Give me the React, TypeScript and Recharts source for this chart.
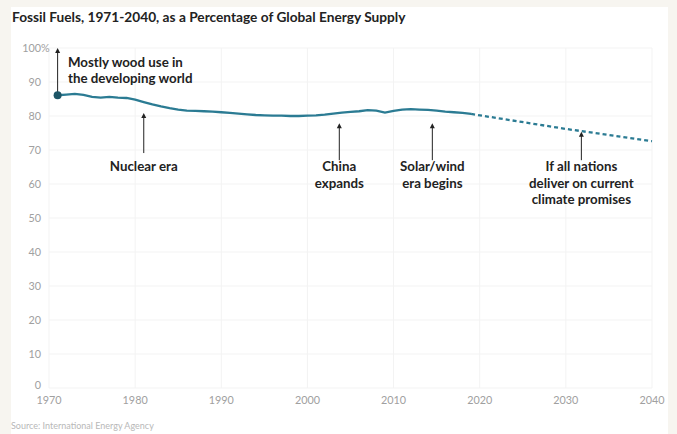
import React from "react";
import {
  LineChart,
  Line,
  XAxis,
  YAxis,
  CartesianGrid,
  ReferenceLine,
  ReferenceDot
} from "recharts";

// Fossil fuel share of total energy supply, percent
const histYears = [
  1971, 1972, 1973, 1974, 1975, 1976, 1977, 1978, 1979, 1980,
  1981, 1982, 1983, 1984, 1985, 1986, 1987, 1988, 1989, 1990,
  1991, 1992, 1993, 1994, 1995, 1996, 1997, 1998, 1999, 2000,
  2001, 2002, 2003, 2004, 2005, 2006, 2007, 2008, 2009, 2010,
  2011, 2012, 2013, 2014, 2015, 2016, 2017, 2018, 2019
];
const histShare = [
  86.1, 86.3, 86.5, 86.2, 85.6, 85.4, 85.6, 85.4, 85.3, 84.8,
  84.1, 83.4, 82.8, 82.3, 81.9, 81.6, 81.5, 81.4, 81.3, 81.1,
  80.9, 80.7, 80.5, 80.3, 80.2, 80.1, 80.1, 80.0, 80.0, 80.1,
  80.2, 80.4, 80.7, 81.0, 81.2, 81.4, 81.7, 81.6, 81.0, 81.5,
  81.9, 82.0, 81.9, 81.8, 81.6, 81.3, 81.1, 80.9, 80.6
];
const projYears = [2019, 2030, 2040];
const projShare = [80.6, 76.2, 72.6];

const xTicks = [1970, 1980, 1990, 2000, 2010, 2020, 2030, 2040];
const yTicks = [0, 10, 20, 30, 40, 50, 60, 70, 80, 90, 100];

// callouts: arrow at year, from tail value up to tip value, label lines below
const CALLOUT_TEXT_Y = 63.7;
const callouts = [
  { year: 1981, tip: 80.9, tail: 69.1, lines: ["Nuclear era"] },
  { year: 2003.7, tip: 77.9, tail: 67.0, lines: ["China", "expands"] },
  { year: 2014.5, tip: 77.9, tail: 67.0, lines: ["Solar/wind", "era begins"] },
  { year: 2031.8, tip: 75.4, tail: 67.0, lines: ["If all nations", "deliver on current", "climate promises"] }
];

const rows = new Map<number, any>();
histYears.forEach((y, i) => rows.set(y, { year: y, hist: histShare[i] }));
projYears.forEach((y, i) => rows.set(y, { ...(rows.get(y) || { year: y }), proj: projShare[i] }));
const data = Array.from(rows.values()).sort((a, b) => a.year - b.year);

const FONT = "Lato, 'Noto Sans', sans-serif";
const TEAL = "#2b7b93";

const Arrow = (p: any) => {
  const { x1, y1, y2 } = p;
  const top = Math.min(y1, y2);
  const bot = Math.max(y1, y2);
  return (
    <g>
      <line x1={x1} x2={x1} y1={top + 3} y2={bot} stroke="#222" strokeWidth={1} />
      <polygon points={`${x1 - 2.5},${top + 5} ${x1 + 2.5},${top + 5} ${x1},${top}`} fill="#222" />
    </g>
  );
};

const Label = (lines: string[], anchor: "middle" | "start") => (p: any) => (
  <text
    x={p.cx}
    y={p.cy}
    textAnchor={anchor}
    fontFamily={FONT}
    fontWeight={700}
    fontSize={13.3}
    fill="#222"
  >
    {lines.map((t, i) => (
      <tspan key={i} x={p.cx} dy={i === 0 ? 0 : 16.5}>
        {t}
      </tspan>
    ))}
  </text>
);

const YTick = (p: any) => {
  const v = p.payload.value;
  // the zero label sits a little above its line so it clears the year row
  const y = v === 0 ? p.y - 3 : p.y;
  return (
    <g>
      <text x={p.x} y={y} dy="0.35em" textAnchor="end" fontFamily={FONT} fontSize={10.8} fill="#a0a0a0">
        {v}
      </text>
      {v === 100 && (
        <text x={p.x} y={y} dy="0.35em" textAnchor="start" fontFamily={FONT} fontSize={10.8} fill="#a0a0a0">
          %
        </text>
      )}
    </g>
  );
};

const XTick = (p: any) => (
  <text x={p.x} y={p.y} dy="0.71em" textAnchor="middle" fontFamily={FONT} fontSize={10.8} fill="#a0a0a0">
    {p.payload.value}
  </text>
);

export default function App() {
  return (
    <div style={{ position: "relative", width: 677, height: 434, background: "#f7f5f0", overflow: "hidden" }}>
      <style>{"body{margin:0}"}</style>
      <div style={{ position: "absolute", left: 11, top: 7, width: 657, height: 427, background: "#fff" }} />
      <div
        style={{
          position: "absolute",
          left: 12,
          top: 8,
          fontFamily: FONT,
          fontWeight: 700,
          fontSize: 13.7,
          color: "#222",
          whiteSpace: "nowrap"
        }}
      >
        Fossil Fuels, 1971-2040, as a Percentage of Global Energy Supply
      </div>
      <div
        style={{
          position: "absolute",
          left: 11,
          top: 420,
          fontFamily: FONT,
          fontSize: 9,
          color: "#b8b8b8",
          whiteSpace: "nowrap"
        }}
      >
        Source: International Energy Agency
      </div>
      <div style={{ position: "absolute", left: 0, top: 0 }}>
        <LineChart width={677} height={434} data={data} margin={{ top: 48, right: 25, bottom: 26, left: 0 }}>
          <CartesianGrid stroke="#f3f3f3" verticalValues={xTicks} horizontalValues={yTicks} />
          <XAxis
            dataKey="year"
            type="number"
            domain={[1970, 2040]}
            ticks={xTicks}
            axisLine={false}
            tickLine={false}
            tickMargin={2}
            height={20}
            tick={<XTick />}
          />
          <YAxis
            type="number"
            domain={[0, 100]}
            ticks={yTicks}
            axisLine={false}
            tickLine={false}
            width={49}
            tickMargin={2}
            tick={<YTick />}
          />
          <Line
            dataKey="hist"
            stroke={TEAL}
            strokeWidth={2.3}
            dot={false}
            connectNulls={false}
            isAnimationActive={false}
          />
          <Line
            dataKey="proj"
            stroke={TEAL}
            strokeWidth={2.3}
            strokeDasharray="4 3"
            dot={false}
            connectNulls
            isAnimationActive={false}
          />
          <ReferenceLine
            segment={[{ x: 1971, y: 86.8 }, { x: 1971, y: 100 }]}
            shape={<Arrow />}
          />
          <ReferenceDot x={1971} y={histShare[0]} r={4} fill="#1d5566" stroke="none" />
          <ReferenceDot x={1972.2} y={94.5} shape={Label(["Mostly wood use in", "the developing world"], "start")} />
          {callouts.map((c) => (
            <ReferenceLine
              key={c.lines[0]}
              segment={[{ x: c.year, y: c.tail }, { x: c.year, y: c.tip }]}
              shape={<Arrow />}
            />
          ))}
          {callouts.map((c) => (
            <ReferenceDot
              key={"t" + c.lines[0]}
              x={c.year}
              y={CALLOUT_TEXT_Y}
              shape={Label(c.lines, "middle")}
            />
          ))}
        </LineChart>
      </div>
    </div>
  );
}
